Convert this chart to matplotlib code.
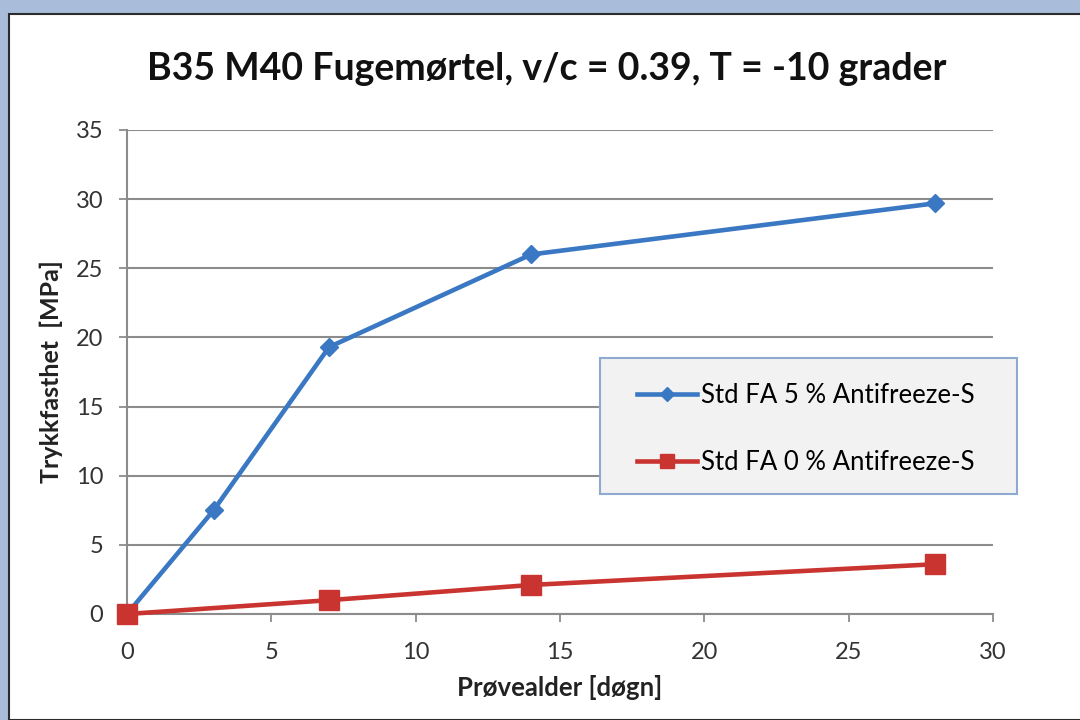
import matplotlib.pyplot as plt
from matplotlib.patches import Rectangle

# data
days_5 = [0, 3, 7, 14, 28]
strength_5 = [0, 7.5, 19.3, 26.0, 29.7]
days_0 = [0, 7, 14, 28]
strength_0 = [0, 1.0, 2.1, 3.6]
label_5 = 'Std FA 5 % Antifreeze-S'
label_0 = 'Std FA 0 % Antifreeze-S'
x_ticks = [0, 5, 10, 15, 20, 25, 30]
y_ticks = [0, 5, 10, 15, 20, 25, 30, 35]

plt.rcParams['font.family'] = ['Lato', 'DejaVu Sans']

fig = plt.figure(figsize=(10.8, 7.2), dpi=100, facecolor='#a9bddb')
# white panel with dark edge like a slide frame
fig.patches.append(Rectangle((9/1080, 0), 1.0, 1 - 14/720, transform=fig.transFigure,
                             facecolor='white', edgecolor='#2b2b2b', linewidth=1.5, zorder=-10))

ax = fig.add_axes([127/1080, 1 - 614/720, 866/1080, 484/720])
ax.set_facecolor('none')

ax.plot(days_5, strength_5, color='#3a78c3', linewidth=3.3, marker='D', markersize=9.5,
        label=label_5, zorder=3, clip_on=False)
ax.plot(days_0, strength_0, color='#c93431', linewidth=3.3, marker='s', markersize=15,
        label=label_0, zorder=3, clip_on=False)

ax.set_xlim(0, 30)
ax.set_ylim(0, 35)
ax.set_xticks(x_ticks)
ax.set_yticks(y_ticks)
ax.tick_params(labelsize=17, colors='#333333', length=6, width=1.3)
ax.tick_params(axis='x', color='#8c8c8c', pad=14)
ax.tick_params(axis='y', color='#8c8c8c', pad=11)
ax.grid(axis='y', color='#8c8c8c', linewidth=1.5)
ax.set_axisbelow(True)
for s in ['top', 'right']:
    ax.spines[s].set_visible(False)
for s in ['left', 'bottom']:
    ax.spines[s].set_color('#8c8c8c')
    ax.spines[s].set_linewidth(1.5)

ax.set_title('B35 M40 Fugemørtel, v/c = 0.39, T = -10 grader', fontsize=27,
             fontweight='bold', pad=36, color='#111111', x=0.485)
ax.set_xlabel('Prøvealder [døgn]', fontsize=18.5, fontweight='bold', labelpad=9, color='#222222')
ax.set_ylabel('Trykkfasthet  [MPa]', fontsize=18, fontweight='bold', labelpad=9, color='#222222')

# legend box drawn separately so the entries can sit inset like the original
ax.add_patch(Rectangle((0.546, 0.248), 0.482, 0.281, transform=ax.transAxes,
                       facecolor='#f2f2f2', edgecolor='#8eaad0', linewidth=1.5,
                       zorder=4.5, clip_on=False))
leg = ax.legend(loc='center left', bbox_to_anchor=(0.589, 0.382), frameon=False,
                borderaxespad=0, borderpad=0, fontsize=18.5, handlelength=2.35,
                handletextpad=0.12, labelspacing=1.65, markerscale=0.7)

fig.savefig('out.png', dpi=100, facecolor=fig.get_facecolor())
